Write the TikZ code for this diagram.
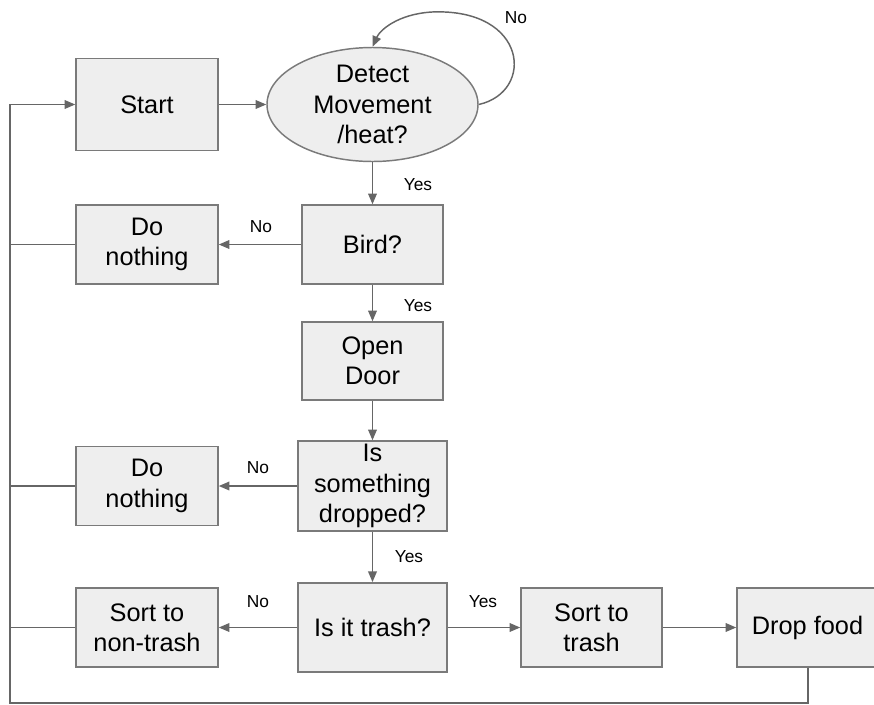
\documentclass[tikz,border=0pt]{standalone}
\usepackage{fontspec}
\setmainfont{Liberation Sans}
\usetikzlibrary{shapes.geometric,arrows.meta}
\definecolor{boxfill}{HTML}{EEEEEE}
\definecolor{boxline}{HTML}{7A7A7A}
\definecolor{conn}{HTML}{666666}
\begin{document}
\begin{tikzpicture}[x=0.75pt,y=-0.75pt,
  box/.style={draw=boxline,fill=boxfill,line width=1.1pt,align=center,inner sep=0pt,
    font=\fontsize{19pt}{22.7pt}\selectfont},
  oval/.style={box,ellipse},
  lbl/.style={font=\fontsize{13pt}{15pt}\selectfont,inner sep=0pt},
  arr/.style={draw=conn,line width=1.1pt,-{Triangle[length=8pt,width=6.5pt]}},
  ln/.style={draw=conn,line width=1.1pt}]
\useasboundingbox (0,0) rectangle (874,704);
\node[box,minimum width=106.5pt,minimum height=69pt] (start) at (147,104.5) {Start};
\node[oval,minimum width=158.25pt,minimum height=85.5pt] (det) at (372.5,104.5) {Detect\\Movement\\/heat?};
\node[box,minimum width=105.75pt,minimum height=59.25pt] (bird) at (372.5,244.5) {Bird?};
\node[box,minimum width=106.5pt,minimum height=59.25pt] (dn1) at (147,244.5) {Do\\nothing};
\node[box,minimum width=105.75pt,minimum height=58.5pt] (door) at (372.5,361) {Open\\Door};
\node[box,minimum width=111.75pt,minimum height=67.5pt] (drop) at (372.5,486) {Is\\something\\dropped?};
\node[box,minimum width=106.5pt,minimum height=59.25pt] (dn2) at (147,486) {Do\\nothing};
\node[box,minimum width=111.75pt,minimum height=67pt] (trash) at (372.5,627.5) {Is it trash?};
\node[box,minimum width=106.5pt,minimum height=59.25pt] (nontrash) at (147,627.5) {Sort to\\non-trash};
\node[box,minimum width=105.75pt,minimum height=59.25pt] (strash) at (591.5,627.5) {Sort to\\trash};
\node[box,minimum width=105.75pt,minimum height=59.25pt] (food) at (807.5,627.5) {Drop food};

\coordinate (fb) at (808,703);
\coordinate (bl) at (10,703);
\coordinate (tl) at (10,104.5);
\coordinate (j1) at (10,244.5);
\coordinate (j2) at (10,486);
\coordinate (j3) at (10,627.5);
\coordinate (lp1) at (432,12);

\draw[arr] (start.east) -- (det.west);
\draw[arr] (det.east) .. controls (535,92) and (528,8) .. (lp1) .. controls (398,14) and (380,30) .. (det.north);
\node[lbl] (lno0) at (516,18) {No};
\draw[arr] (det.south) -- (bird.north);
\node[lbl] (lyes1) at (418,185) {Yes};
\draw[arr] (bird.west) -- (dn1.east);
\node[lbl] (lno1) at (261,227) {No};
\draw[arr] (bird.south) -- (door.north);
\node[lbl] (lyes2) at (418,306) {Yes};
\draw[arr] (door.south) -- (drop.north);
\draw[arr] (drop.west) -- (dn2.east);
\node[lbl] (lno2) at (258,468) {No};
\draw[arr] (drop.south) -- (trash.north);
\node[lbl] (lyes3) at (409,557) {Yes};
\draw[arr] (trash.west) -- (nontrash.east);
\node[lbl] (lno3) at (258,602) {No};
\draw[arr] (trash.east) -- (strash.west);
\node[lbl] (lyes4) at (483,602) {Yes};
\draw[arr] (strash.east) -- (food.west);
\draw[arr] (food.south -| fb) -- (fb) -- (bl) -- (tl) -- (start.west);
\draw[ln] (dn1.west) -- (j1);
\draw[ln] (dn2.west) -- (j2);
\draw[ln] (nontrash.west) -- (j3);
\end{tikzpicture}
\end{document}
